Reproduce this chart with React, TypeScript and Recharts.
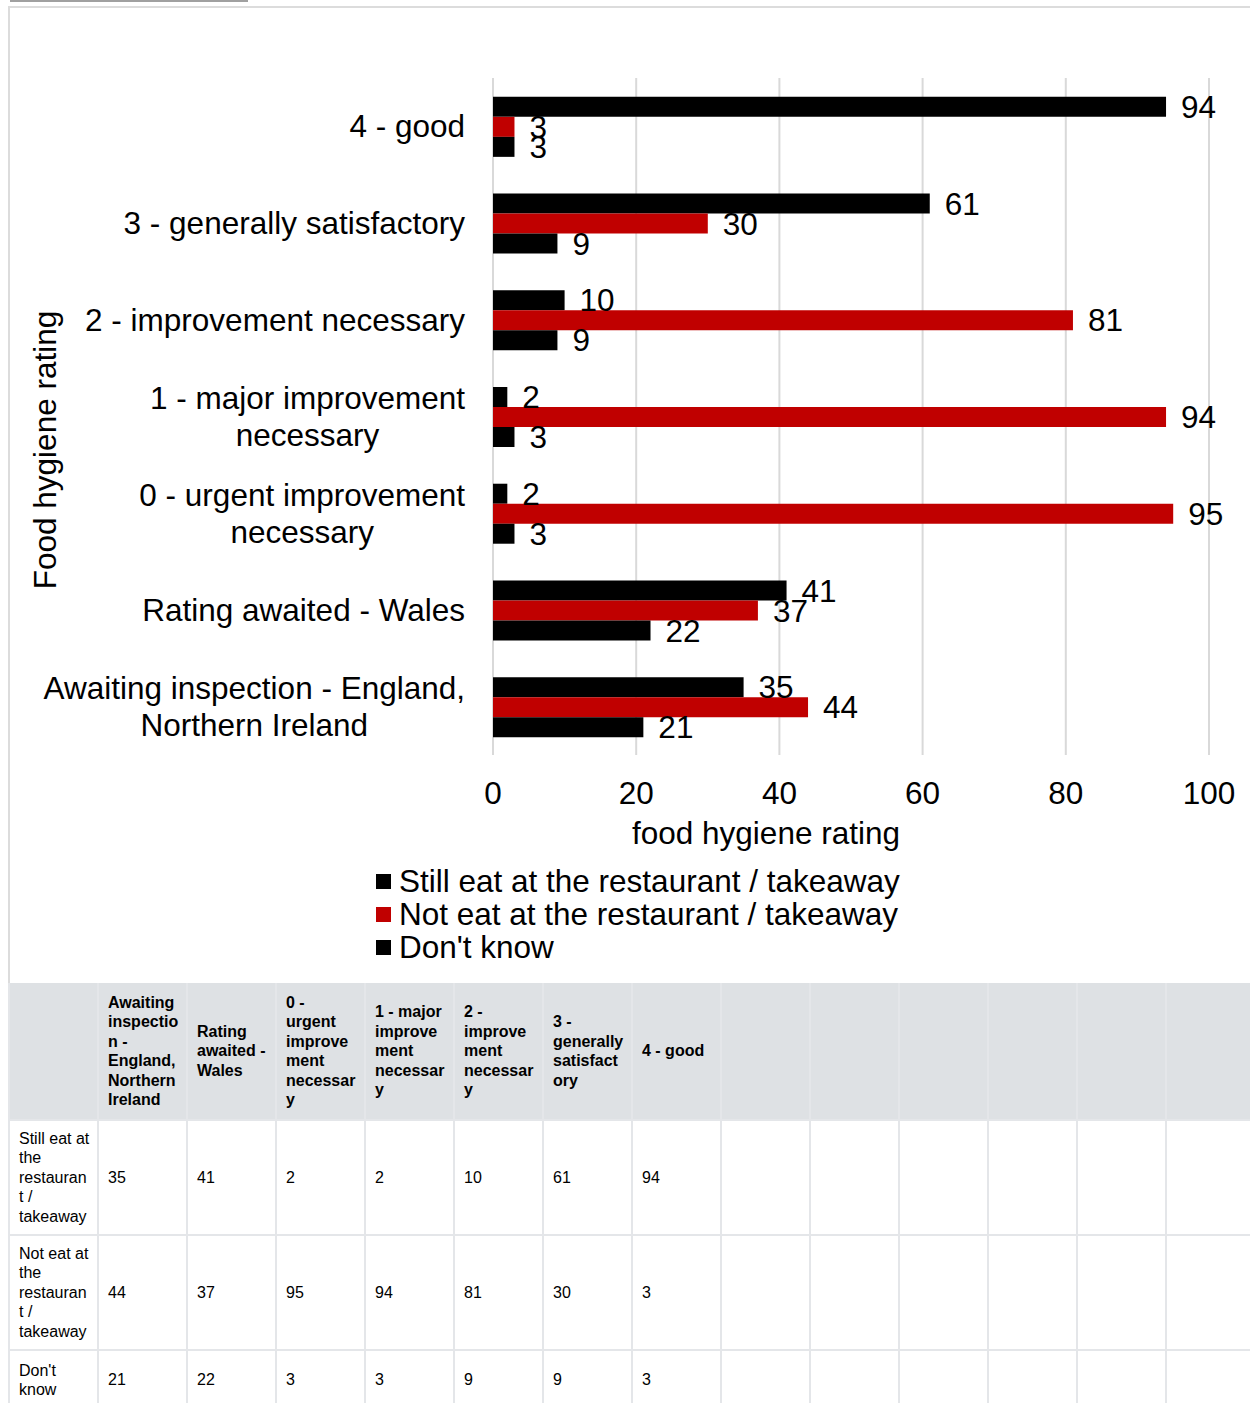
import React from 'react';
import { BarChart, Bar, XAxis, YAxis, CartesianGrid, LabelList, Legend, Label } from 'recharts';

const categories = [
  'Awaiting inspection - England, Northern Ireland',
  'Rating awaited - Wales',
  '0 - urgent improvement necessary',
  '1 - major improvement necessary',
  '2 - improvement necessary',
  '3 - generally satisfactory',
  '4 - good',
];
const stillEat = [35, 41, 2, 2, 10, 61, 94];
const notEat = [44, 37, 95, 94, 81, 30, 3];
const dontKnow = [21, 22, 3, 3, 9, 9, 3];
const seriesNames = ['Still eat at the restaurant / takeaway', 'Not eat at the restaurant / takeaway', "Don't know"];
const seriesColors = ['#000000', '#c00000', '#000000'];
const xTicks = [0, 20, 40, 60, 80, 100];

const FONT = '"Liberation Sans", Arial, sans-serif';
const FS = 31.5;

const data = categories.map((name, i) => ({
  name,
  still: stillEat[i],
  notEat: notEat[i],
  dontKnow: dontKnow[i],
}));

let ctx: CanvasRenderingContext2D | null = null;
function measure(t: string) {
  if (!ctx) {
    ctx = document.createElement('canvas').getContext('2d');
  }
  if (!ctx) return t.length * FS * 0.5;
  ctx.font = `${FS}px ${FONT}`;
  return ctx.measureText(t).width;
}

function wrap(text: string, maxW: number) {
  const words = text.split(' ');
  const lines: string[] = [];
  let cur = '';
  words.forEach((w) => {
    const next = cur ? cur + ' ' + w : w;
    if (cur && measure(next) > maxW) {
      lines.push(cur);
      cur = w;
    } else {
      cur = next;
    }
  });
  if (cur) lines.push(cur);
  return lines;
}

function CategoryTick(props: any) {
  const { x, y, payload } = props;
  const lines = wrap(payload.value, 430);
  const maxW = Math.max(...lines.map(measure));
  const lh = 37;
  const y0 = y - ((lines.length - 1) * lh) / 2;
  return (
    <g>
      {lines.map((l, i) => (
        <text
          key={i}
          x={x - maxW / 2}
          y={y0 + i * lh}
          dy={11}
          textAnchor='middle'
          fontSize={FS}
          fontFamily={FONT}
          fill='#000'
        >
          {l}
        </text>
      ))}
    </g>
  );
}

function LegendBox() {
  return (
    <div style={{ fontFamily: FONT, fontSize: FS, color: '#000' }}>
      {seriesNames.map((n, i) => (
        <div key={n} style={{ display: 'flex', alignItems: 'center', height: 33 }}>
          <span style={{ width: 15, height: 15, background: seriesColors[i], marginRight: 8 }} />
          <span style={{ lineHeight: '33px', whiteSpace: 'nowrap' }}>{n}</span>
        </div>
      ))}
    </div>
  );
}

const cellBorder = '2px solid #e4e6e9';
const emptyCols = 6;

function DataTable() {
  const rows = [stillEat, notEat, dontKnow];
  const rowHeights = [115, 115, 60];
  const th: React.CSSProperties = {
    background: '#dee1e4',
    fontWeight: 'bold',
    textAlign: 'left',
    verticalAlign: 'middle',
    padding: '0 7px 0 9px',
    borderLeft: cellBorder,
    overflowWrap: 'anywhere',
  };
  const td: React.CSSProperties = {
    verticalAlign: 'middle',
    padding: '0 7px 0 9px',
    border: cellBorder,
    overflowWrap: 'anywhere',
  };
  return (
    <table
      style={{
        borderCollapse: 'collapse',
        tableLayout: 'fixed',
        width: 89 * 14,
        fontFamily: FONT,
        fontSize: 16,
        lineHeight: '19.5px',
        color: '#000',
      }}
    >
      <colgroup>
        {Array.from({ length: 14 }).map((_, i) => (
          <col key={i} style={{ width: 89 }} />
        ))}
      </colgroup>
      <thead>
        <tr style={{ height: 137 }}>
          <th style={th} />
          {categories.map((c) => (
            <th key={c} style={th}>
              {c}
            </th>
          ))}
          {Array.from({ length: emptyCols }).map((_, i) => (
            <th key={'e' + i} style={th} />
          ))}
        </tr>
      </thead>
      <tbody>
        {rows.map((r, ri) => (
          <tr key={ri} style={{ height: rowHeights[ri] }}>
            <td style={td}>{seriesNames[ri]}</td>
            {r.map((v, i) => (
              <td key={i} style={td}>
                {v}
              </td>
            ))}
            {Array.from({ length: emptyCols }).map((_, i) => (
              <td key={'e' + i} style={td} />
            ))}
          </tr>
        ))}
      </tbody>
    </table>
  );
}

export default function App() {
  return (
    <div style={{ position: 'absolute', left: 0, top: 0, width: 1250, height: 1403, overflow: 'hidden', background: '#fff' }}>
      <div style={{ position: 'absolute', left: 10, top: 0, width: 238, height: 2, background: '#a0a0a0' }} />
      <div
        style={{
          position: 'absolute',
          left: 8,
          top: 6,
          width: 1260,
          height: 977,
          borderLeft: '2px solid #dcdcdc',
          borderTop: '2px solid #dcdcdc',
        }}
      />
      <div style={{ position: 'absolute', left: 10, top: 8 }}>
        <BarChart
          width={1240}
          height={975}
          data={data}
          layout='vertical'
          margin={{ top: 70, right: 41, left: 0, bottom: 128 }}
          barCategoryGap='19.5%'
          barGap={0}
        >
          <CartesianGrid horizontal={false} vertical stroke='#d9d9d9' strokeWidth={2} />
          <XAxis
            type='number'
            domain={[0, 100]}
            ticks={xTicks}
            axisLine={false}
            tickLine={false}
            tickSize={0}
            tickMargin={27}
            height={100}
            tick={{ fontSize: FS, fill: '#000', fontFamily: FONT }}
          >
            <Label
              content={() => (
                <text x={756} y={836} textAnchor='middle' fontSize={FS} fontFamily={FONT} fill='#000'>
                  food hygiene rating
                </text>
              )}
            />
          </XAxis>
          <YAxis
            type='category'
            dataKey='name'
            reversed
            width={483}
            axisLine={false}
            tickLine={false}
            tickSize={0}
            tickMargin={28}
            tick={<CategoryTick />}
            interval={0}
          >
            <Label
              content={() => (
                <text
                  x={35}
                  y={442}
                  transform='rotate(-90 35 442)'
                  dy={11}
                  textAnchor='middle'
                  fontSize={FS}
                  fontFamily={FONT}
                  fill='#000'
                >
                  Food hygiene rating
                </text>
              )}
            />
          </YAxis>
          <Legend
            layout='vertical'
            align='center'
            verticalAlign='middle'
            wrapperStyle={{ top: 857, left: 366, width: 700, height: 110 }}
            content={() => <LegendBox />}
          />
          <Bar dataKey='still' name={seriesNames[0]} fill={seriesColors[0]} isAnimationActive={false}>
            <LabelList dataKey='still' position='right' offset={15} fontSize={FS} fill='#000' fontFamily={FONT} />
          </Bar>
          <Bar dataKey='notEat' name={seriesNames[1]} fill={seriesColors[1]} isAnimationActive={false}>
            <LabelList dataKey='notEat' position='right' offset={15} fontSize={FS} fill='#000' fontFamily={FONT} />
          </Bar>
          <Bar dataKey='dontKnow' name={seriesNames[2]} fill={seriesColors[2]} isAnimationActive={false}>
            <LabelList dataKey='dontKnow' position='right' offset={15} fontSize={FS} fill='#000' fontFamily={FONT} />
          </Bar>
        </BarChart>
      </div>
      <div style={{ position: 'absolute', left: 8, top: 983 }}>
        <DataTable />
      </div>
    </div>
  );
}
